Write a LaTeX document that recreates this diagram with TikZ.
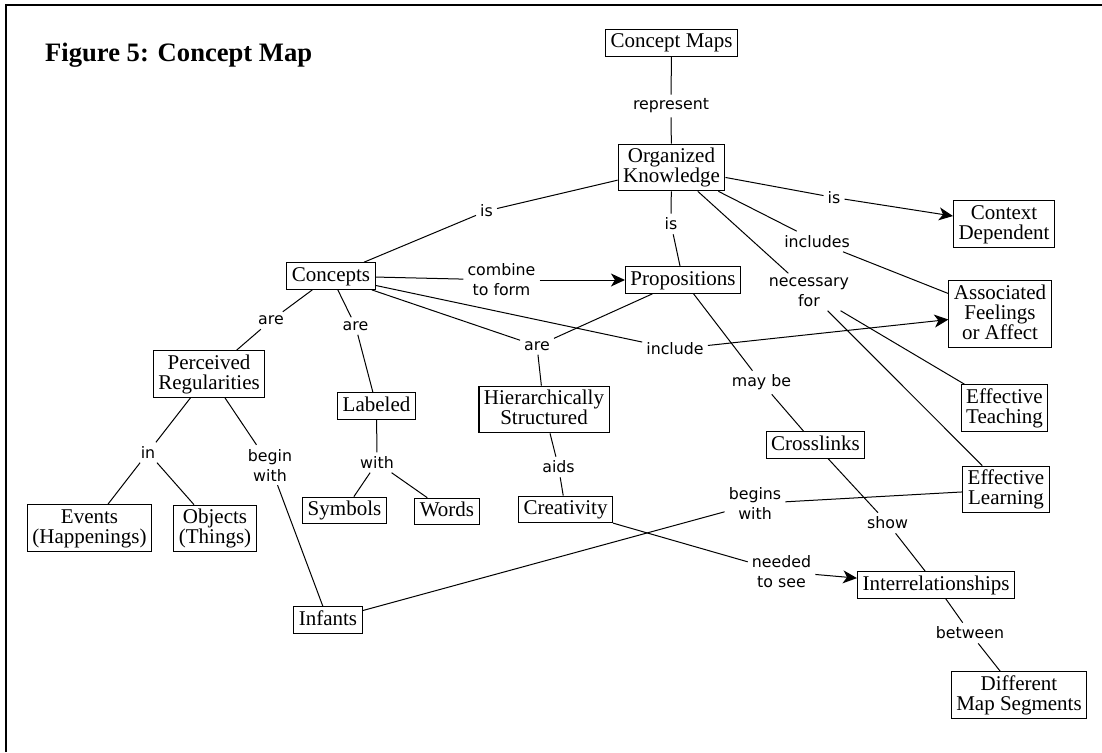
\documentclass[tikz,border=0pt]{standalone}
\usepackage{fontspec}
\setmainfont{Liberation Serif}
\newfontfamily\lblfont{DejaVu Sans}
\usetikzlibrary{arrows.meta}
\newcommand\sst{\rule[-5pt]{0pt}{20pt}}
\begin{document}
\begin{tikzpicture}[x=1pt,y=-1pt,
  bx/.style={draw, line width=1.1pt, font=\fontsize{21}{20}\selectfont, align=center, inner xsep=5pt, inner ysep=3.3pt},
  lbl/.style={font=\lblfont\fontsize{15.8}{20}\selectfont, align=center, inner xsep=4pt, inner ysep=4pt},
  ln/.style={line width=1pt},
  arr/.style={ln, -{Stealth[length=14pt,width=13pt,inset=4pt]}},
  frame/.style={line width=2pt}]
\useasboundingbox (0,0) rectangle (1102,752);
\coordinate (f1) at (6,752);
\coordinate (f2) at (6,5);
\coordinate (f3) at (1102,5);
\draw[frame] (f1) -- (f2) -- (f3);
\node[anchor=base west, font=\bfseries\fontsize{26.6}{30}\selectfont, inner sep=0pt] (title) at (45,61) {Figure 5: Concept Map};
% concept boxes
\node[bx] (cm) at (671.5,43) {\sst Concept Maps};
\node[bx] (ok) at (671.5,167.5) {\sst Organized\\\sst Knowledge};
\node[bx] (cd) at (1004,224) {\sst Context\\\sst Dependent};
\node[bx] (af) at (1000,314) {\sst Associated\\\sst Feelings\\\sst or Affect};
\node[bx] (et) at (1004.5,408) {\sst Effective\\\sst Teaching};
\node[bx] (el) at (1006,489.5) {\sst Effective\\\sst Learning};
\node[bx] (ir) at (936,585) {\sst Interrelationships};
\node[bx] (dm) at (1019,695) {\sst Different\\\sst Map Segments};
\node[bx] (cl) at (815.5,445) {\sst Crosslinks};
\node[bx] (pr) at (683,280) {\sst Propositions};
\node[bx] (co) at (331,276) {\sst Concepts};
\node[bx] (pe) at (209,374) {\sst Perceived\\\sst Regularities};
\node[bx] (la) at (376.5,406) {\sst Labeled};
\node[bx] (hs) at (544,409.5) {\sst Hierarchically\\\sst Structured};
\node[bx] (sy) at (344.5,510.5) {\sst Symbols};
\node[bx] (wo) at (447,511.5) {\sst Words};
\node[bx] (cr) at (565.5,509.5) {\sst Creativity};
\node[bx] (ev) at (89.5,528) {\sst Events\\\sst (Happenings)};
\node[bx] (ob) at (215,528.5) {\sst Objects\\\sst (Things)};
\node[bx] (inf) at (328,620) {\sst Infants};
% link labels
\node[lbl] (lrep) at (671,106) {represent};
\node[lbl] (lis1) at (486.5,211) {is};
\node[lbl] (lis2) at (671,224) {is};
\node[lbl] (lis3) at (834,197.5) {is};
\node[lbl] (lincl) at (817,241.5) {includes};
\node[lbl] (lnec) at (809,292) {necessary\\for};
\node[lbl] (lcomb) at (501.5,280) {combine\\to form};
\node[lbl] (lare3) at (537,346) {are};
\node[lbl] (linc) at (675,349) {include};
\node[lbl] (lmay) at (761.5,382.5) {may be};
\node[lbl] (laids) at (558.5,467) {aids};
\node[lbl] (lbeg) at (755,503.5) {begins\\with};
\node[lbl] (lshow) at (887.5,523) {show};
\node[lbl] (lneed) at (781.5,571.5) {needed\\to see};
\node[lbl] (lbet) at (970,633) {between};
\node[lbl] (lare1) at (271,320.5) {are};
\node[lbl] (lare2) at (355.5,326) {are};
\node[lbl] (lin) at (148,452.5) {in};
\node[lbl] (lbw) at (270,465) {begin\\with};
\node[lbl] (lwith) at (377,462.5) {with};
% connectors
\draw[ln] (cm) -- (lrep); \draw[ln] (lrep) -- (ok);
\draw[ln] (ok) -- (lis1); \draw[ln] (lis1) -- (co);
\draw[ln] (ok) -- (lis2); \draw[ln] (lis2) -- (pr);
\draw[ln] (ok) -- (lis3); \draw[arr] (lis3) -- (cd);
\draw[ln] (ok) -- (lincl); \draw[ln] (lincl) -- (af);
\draw[ln] (ok) -- (lnec); \draw[ln] (lnec) -- (et); \draw[ln] (lnec) -- (el);
\draw[ln] (co) -- (lcomb); \draw[arr] (lcomb) -- (pr);
\draw[ln] (co) -- (linc); \draw[arr] (linc) -- (af);
\draw[ln] (co) -- (lare3); \draw[ln] (pr) -- (lare3); \draw[ln] (lare3) -- (hs);
\draw[ln] (pr) -- (lmay); \draw[ln] (lmay) -- (cl);
\draw[ln] (cl) -- (lshow); \draw[ln] (lshow) -- (ir);
\draw[ln] (ir) -- (lbet); \draw[ln] (lbet) -- (dm);
\draw[ln] (cr) -- (lneed); \draw[arr] (lneed) -- (ir);
\draw[ln] (el) -- (lbeg); \draw[ln] (lbeg) -- (inf);
\draw[ln] (hs) -- (laids); \draw[ln] (laids) -- (cr);
\draw[ln] (co) -- (lare1); \draw[ln] (lare1) -- (pe);
\draw[ln] (co) -- (lare2); \draw[ln] (lare2) -- (la);
\draw[ln] (pe) -- (lin); \draw[ln] (lin) -- (ev); \draw[ln] (lin) -- (ob);
\draw[ln] (pe) -- (lbw); \draw[ln] (lbw) -- (inf);
\draw[ln] (la) -- (lwith); \draw[ln] (lwith) -- (sy); \draw[ln] (lwith) -- (wo);
\end{tikzpicture}
\end{document}
